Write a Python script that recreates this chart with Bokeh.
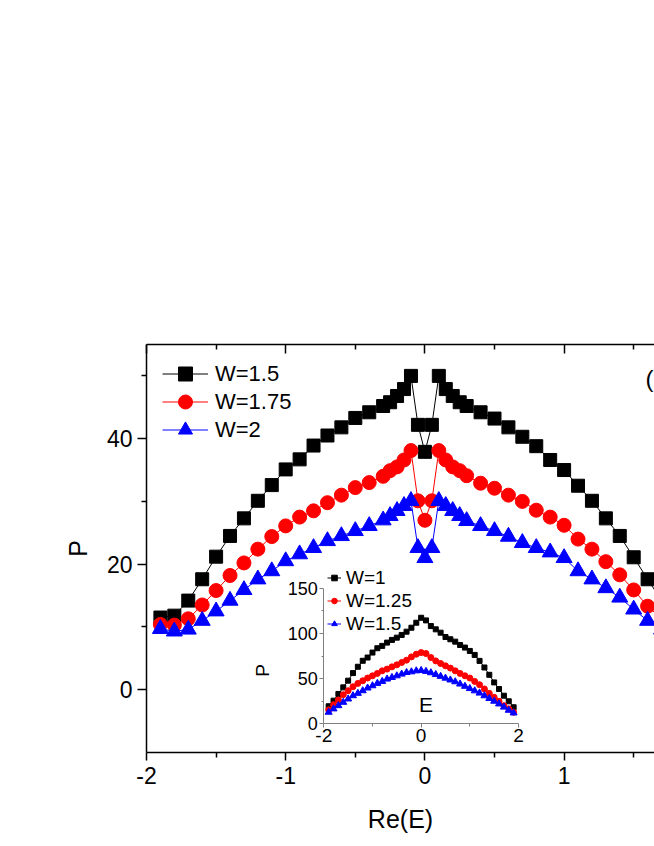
import math
from bokeh.plotting import figure
from bokeh.models import Range1d, LinearAxis, FixedTicker, Legend, LegendItem, Label
from bokeh.embed import file_html
from bokeh.resources import INLINE

# ---------------- data: main panel ----------------
re_e = [-1.9, -1.8, -1.7, -1.6, -1.5, -1.4, -1.3, -1.2, -1.1, -1.0, -0.9, -0.8, -0.7, -0.6,
        -0.5, -0.4, -0.3, -0.25, -0.2, -0.15, -0.1, -0.05, 0.0, 0.05, 0.1, 0.15, 0.2, 0.25,
        0.3, 0.4, 0.5, 0.6, 0.7, 0.8, 0.9, 1.0, 1.1, 1.2, 1.3, 1.4, 1.5, 1.6, 1.7, 1.8, 1.9]
p_w150 = [11.5, 11.8, 14.2, 17.6, 21.2, 24.5, 27.3, 30.1, 32.6, 35.1, 36.7, 38.9, 40.5, 41.8,
          43.3, 44.2, 45.2, 45.8, 46.8, 47.9, 50.0, 42.2, 37.9, 42.2, 50.0, 47.9, 46.8, 45.8,
          45.2, 44.2, 43.2, 41.8, 40.3, 38.8, 36.6, 35.0, 32.5, 30.1, 27.3, 24.5, 21.1, 17.6,
          14.2, 11.8, 11.5]
p_w175 = [10.4, 10.3, 11.3, 13.5, 15.8, 18.2, 20.2, 22.4, 24.4, 26.1, 27.5, 28.5, 29.8, 31.0,
          32.2, 33.0, 34.0, 34.9, 35.5, 36.6, 38.1, 30.1, 27.0, 30.1, 38.1, 36.6, 35.5, 34.9,
          34.1, 32.9, 32.1, 31.0, 30.0, 28.6, 27.5, 26.2, 24.0, 22.4, 20.4, 18.3, 15.9, 13.3,
          11.3, 10.3, 10.4]
p_w200 = [9.7, 9.3, 9.6, 11.0, 12.5, 14.2, 15.9, 17.6, 18.9, 20.5, 21.6, 22.6, 23.7, 24.5,
          25.3, 26.1, 27.0, 27.7, 28.5, 29.3, 30.1, 22.6, 21.0, 22.6, 30.1, 29.3, 28.5, 27.7,
          26.9, 26.1, 25.3, 24.4, 23.4, 22.6, 21.9, 21.0, 18.9, 17.6, 16.2, 14.7, 12.8, 11.0,
          9.6, 9.3, 9.7]
main_labels = ["W=1.5", "W=1.75", "W=2"]
main_xticks = [-2, -1, 0, 1]
main_xminor = [-1.5, -0.5, 0.5, 1.5]
main_yticks = [0, 20, 40]
main_yminor = [10, 30, 50]

# ---------------- data: inset ----------------
e_in = [-1.9, -1.8, -1.7, -1.6, -1.5, -1.4, -1.3, -1.2, -1.1, -1.0, -0.9, -0.8, -0.7, -0.6,
        -0.5, -0.4, -0.3, -0.2, -0.1, 0.0, 0.1, 0.2, 0.3, 0.4, 0.5, 0.6, 0.7, 0.8, 0.9, 1.0,
        1.1, 1.2, 1.3, 1.4, 1.5, 1.6, 1.7, 1.8, 1.9]
p_in_w100 = [19.4, 25.6, 33.0, 40.3, 47.7, 56.1, 63.1, 69.7, 73.3, 78.8, 83.6, 86.2, 89.8, 92.8,
             95.3, 98.3, 101.9, 106.3, 111.8, 117.3, 114.4, 108.1, 104.5, 100.8, 96.0, 93.5,
             90.9, 87.2, 84.3, 80.6, 76.2, 69.6, 62.3, 54.2, 45.8, 38.5, 31.1, 24.9, 18.3]
p_in_w125 = [15.4, 21.2, 26.4, 32.2, 36.6, 41.0, 44.7, 47.6, 50.6, 53.1, 55.7, 58.6, 60.5, 63.0,
             65.2, 67.8, 70.4, 74.0, 77.0, 78.8, 77.7, 73.3, 69.6, 66.7, 64.1, 61.6, 58.6,
             55.7, 53.1, 50.6, 46.9, 43.2, 38.5, 33.7, 29.3, 24.9, 20.1, 16.5, 12.8]
p_in_w150 = [12.8, 16.5, 20.1, 23.8, 27.5, 31.1, 33.7, 36.6, 39.6, 42.1, 44.7, 46.9, 49.5, 51.3,
             53.1, 55.0, 56.8, 57.5, 58.6, 59.0, 58.0, 56.5, 54.5, 52.5, 50.5, 48.5, 46.5,
             44.0, 41.5, 39.0, 36.5, 34.0, 31.0, 28.0, 25.0, 22.0, 18.5, 15.0, 12.0]
inset_labels = ["W=1", "W=1.25", "W=1.5"]
inset_xticks = [-2, 0, 2]
inset_xminor = [-1, 1]
inset_yticks = [0, 50, 100, 150]
inset_yminor = [25, 75, 125]

# ---------------- layout constants ----------------
FONT = "Liberation Sans"
W, H = 654, 840
BL, BR, BT = 146, 0, 344
FRAME_BOTTOM = 752
BB = H - FRAME_BOTTOM
FW, FH = W - BL - BR, FRAME_BOTTOM - BT
X0, Y0, Y1 = -2.0, -10.0, 55.0
X1 = X0 + FW / 139.2
# inset frame box in frame pixels (from frame left / frame top)
IL, IR, IT, IB = 177.3, 372.0, 243.7, 379.3
ux = (IR - IL) / 4.0
uy = (IB - IT) / 150.0
IX0, IX1 = -2.0 - IL / ux, 2.0 + (FW - IR) / ux
IY0, IY1 = -(FH - IB) / uy, 150.0 + IT / uy

p = figure(width=W, height=H, output_backend="svg", toolbar_location=None,
           x_range=Range1d(X0, X1), y_range=Range1d(Y0, Y1),
           x_axis_location=None, y_axis_location=None,
           min_border_left=BL, min_border_right=BR, min_border_top=BT, min_border_bottom=BB)
p.outline_line_color = None
p.grid.visible = False
p.background_fill_color = "white"
p.border_fill_color = "white"
p.extra_x_ranges = {"ix": Range1d(IX0, IX1)}
p.extra_y_ranges = {"iy": Range1d(IY0, IY1)}

HYPHEN = {-2: "-2", -1: "-1"}


def style_axis(ax, size="23px"):
    ax.axis_line_color = "black"
    ax.axis_line_width = 1.5
    ax.major_tick_line_color = "black"
    ax.major_tick_line_width = 1.5
    ax.minor_tick_line_color = "black"
    ax.minor_tick_line_width = 1.5
    ax.major_label_text_font = FONT
    ax.major_label_text_font_size = size
    ax.major_label_text_color = "black"
    ax.axis_label_text_font = FONT
    ax.axis_label_text_font_style = "normal"
    ax.axis_label_text_color = "black"


xb = LinearAxis(ticker=FixedTicker(ticks=main_xticks, minor_ticks=main_xminor),
                axis_label="Re(E)", major_label_overrides=HYPHEN)
style_axis(xb)
xb.major_tick_out, xb.major_tick_in = 8, 0
xb.minor_tick_out, xb.minor_tick_in = 5, 0
xb.major_label_standoff = 6
xb.axis_label_text_font_size = "25px"
xb.axis_label_standoff = 18
p.add_layout(xb, "below")

xt = LinearAxis(ticker=FixedTicker(ticks=main_xticks, minor_ticks=main_xminor))
style_axis(xt)
xt.major_tick_out, xt.major_tick_in = 0, 9
xt.minor_tick_out, xt.minor_tick_in = 0, 5
xt.major_label_text_color = None
p.add_layout(xt, "above")

yl = LinearAxis(ticker=FixedTicker(ticks=main_yticks, minor_ticks=main_yminor),
                axis_label="P")
style_axis(yl)
yl.major_tick_out, yl.major_tick_in = 9, 0
yl.minor_tick_out, yl.minor_tick_in = 5, 0
yl.major_label_standoff = 5
yl.axis_label_text_font_size = "25px"
yl.axis_label_standoff = 12
p.add_layout(yl, "left")

colors = ["black", "red", "blue"]
markers = ["square", "circle", "triangle"]

# main series, one legend box per entry so the rows sit 28 px apart
main_series = [p_w150, p_w175, p_w200]
main_sizes = [13, 14, 16]
main_leg_y = [361, 333, 305]
for ys, c, m, s, lab, ly in zip(main_series, colors, markers, main_sizes, main_labels, main_leg_y):
    ln = p.line(re_e, ys, line_color=c, line_width=1)
    sc = p.scatter(re_e, ys, marker=m, size=s, fill_color=c, line_color=c)
    leg = Legend(items=[LegendItem(label=lab, renderers=[ln, sc])], location=(16, ly),
                 glyph_width=46, glyph_height=35, spacing=0, padding=0, margin=0,
                 label_standoff=7, label_text_font=FONT, label_text_font_size="22px",
                 label_text_color="black", border_line_color=None, background_fill_alpha=0)
    p.add_layout(leg, "center")

# inset series
inset_series = [p_in_w100, p_in_w125, p_in_w150]
inset_sizes = [5, 6, 7]
inset_items = []
for ys, c, m, s, lab in zip(inset_series, colors, markers, inset_sizes, inset_labels):
    ln = p.line(e_in, ys, line_color=c, line_width=1, x_range_name="ix", y_range_name="iy")
    sc = p.scatter(e_in, ys, marker=m, size=s, fill_color=c, line_color=c,
                   x_range_name="ix", y_range_name="iy")
    inset_items.append(LegendItem(label=lab, renderers=[ln, sc]))

ileg = Legend(items=inset_items, location=(181, 117), orientation="vertical",
              glyph_width=14, glyph_height=23, spacing=0, padding=0, margin=0,
              label_standoff=5, label_text_font=FONT, label_text_font_size="19px",
              label_text_color="black", border_line_color=None, background_fill_alpha=0)
p.add_layout(ileg, "center")

# inset axes
ixa = LinearAxis(x_range_name="ix", y_range_name="iy", fixed_location=0, bounds=(-2, 2),
                 ticker=FixedTicker(ticks=inset_xticks, minor_ticks=inset_xminor),
                 major_label_overrides=HYPHEN)
style_axis(ixa, "19px")
ixa.axis_line_color = "#808080"
ixa.axis_line_width = 1
ixa.major_tick_line_color = "#808080"
ixa.minor_tick_line_color = "#808080"
ixa.major_tick_line_width = 1
ixa.minor_tick_line_width = 1
ixa.major_tick_out, ixa.major_tick_in = 4, 0
ixa.minor_tick_out, ixa.minor_tick_in = 3, 0
ixa.major_label_standoff = 1
p.add_layout(ixa, "below")

iya = LinearAxis(x_range_name="ix", y_range_name="iy", fixed_location=-2, bounds=(0, 150),
                 ticker=FixedTicker(ticks=inset_yticks, minor_ticks=inset_yminor))
style_axis(iya, "18px")
iya.axis_line_color = "#808080"
iya.axis_line_width = 1
iya.major_tick_line_color = "#808080"
iya.minor_tick_line_color = "#808080"
iya.major_tick_line_width = 1
iya.minor_tick_line_width = 1
iya.major_tick_out, iya.major_tick_in = 4, 0
iya.minor_tick_out, iya.minor_tick_in = 2, 0
iya.major_label_standoff = 2
p.add_layout(iya, "left")

p.add_layout(Label(x=0.1, y=21.0, x_range_name="ix", y_range_name="iy", text="E",
                   text_align="center", text_baseline="middle", text_font=FONT,
                   text_font_size="21px", text_color="black"))
p.add_layout(Label(x=-3.26, y=59.0, x_range_name="ix", y_range_name="iy", text="P",
                   angle=math.pi / 2, text_align="center", text_baseline="middle",
                   text_font=FONT, text_font_size="19px", text_color="black"))
p.add_layout(Label(x=X1, y=49.6, x_offset=-1, text="(", text_align="right",
                   text_baseline="middle", text_font=FONT, text_font_size="24px",
                   text_color="black"))

open("out.html", "w").write(file_html(p, INLINE))
